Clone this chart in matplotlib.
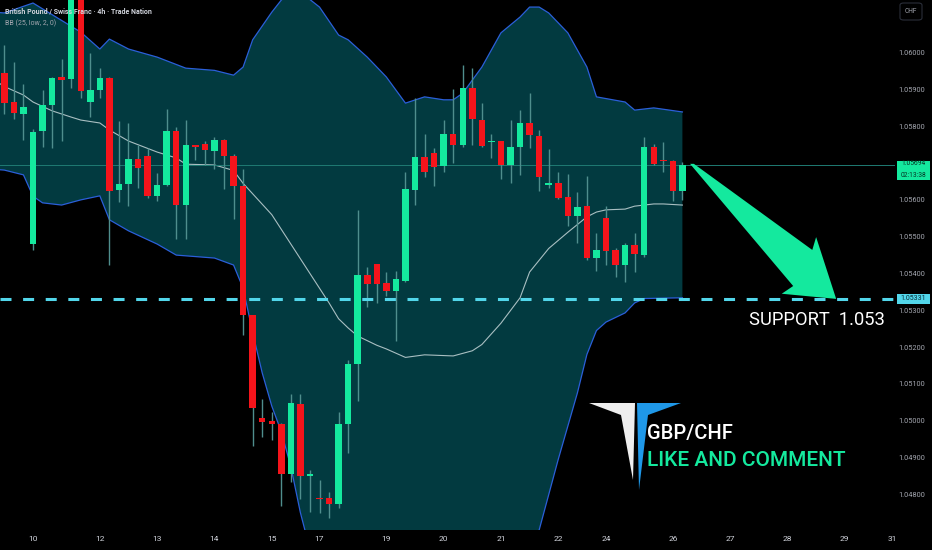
import matplotlib
matplotlib.use("Agg")
import matplotlib.pyplot as plt
from matplotlib import transforms
from matplotlib.patches import Polygon, Rectangle, FancyBboxPatch

W, H = 932, 550

# ---- 4h candles (index 0 = Fri 8th, 3rd-last bar of the day) ----------------
OPEN = [1.05944, 1.05866, 1.05834, 1.05481, 1.05786, 1.05857, 1.05933, 1.05928,
        1.06160, 1.05866, 1.05898, 1.05930, 1.05626, 1.05644, 1.05710, 1.05719,
        1.05610, 1.05641, 1.05787, 1.05586, 1.05750, 1.05752, 1.05734, 1.05764,
        1.05720, 1.05638, 1.05286, 1.05006, 1.05000, 1.04992, 1.04854, 1.05046,
        1.04850, 1.04791, 1.04791, 1.04775, 1.04990, 1.05153, 1.05397, 1.05427,
        1.05374, 1.05352, 1.05380, 1.05628, 1.05717, 1.05727, 1.05691, 1.05780,
        1.05750, 1.05904, 1.05818, 1.05757, 1.05761, 1.05696, 1.05745, 1.05809,
        1.05773, 1.05640, 1.05645, 1.05608, 1.05555, 1.05583, 1.05441, 1.05552,
        1.05463, 1.05424, 1.05477, 1.05449, 1.05743, 1.05707, 1.05705, 1.05623]
HIGH = [1.06021, 1.05975, 1.05914, 1.05792, 1.05898, 1.05933, 1.05984, 1.06190,
        1.06190, 1.05998, 1.05958, 1.05933, 1.05814, 1.05809, 1.05750, 1.05741,
        1.05672, 1.05848, 1.05797, 1.05816, 1.05750, 1.05759, 1.05771, 1.05766,
        1.05724, 1.05685, 1.05286, 1.05058, 1.05025, 1.04994, 1.05072, 1.05072,
        1.04866, 1.04838, 1.04807, 1.05025, 1.05165, 1.05572, 1.05418, 1.05427,
        1.05404, 1.05408, 1.05675, 1.05876, 1.05778, 1.05741, 1.05816, 1.05900,
        1.05967, 1.05958, 1.05862, 1.05780, 1.05761, 1.05817, 1.05845, 1.05890,
        1.05789, 1.05739, 1.05675, 1.05670, 1.05621, 1.05664, 1.05511, 1.05583,
        1.05469, 1.05483, 1.05509, 1.05771, 1.05752, 1.05758, 1.05708, 1.05703]
LOW = [1.05834, 1.05820, 1.05764, 1.05465, 1.05745, 1.05741, 1.05759, 1.05904,
       1.05876, 1.05825, 1.05876, 1.05423, 1.05593, 1.05584, 1.05633, 1.05605,
       1.05596, 1.05638, 1.05493, 1.05493, 1.05708, 1.05696, 1.05685, 1.05630,
       1.05549, 1.05234, 1.04931, 1.04957, 1.04947, 1.04768, 1.04833, 1.04788,
       1.04753, 1.04749, 1.04735, 1.04763, 1.04913, 1.05053, 1.05310, 1.05320,
       1.05338, 1.05217, 1.05376, 1.05586, 1.05661, 1.05638, 1.05675, 1.05699,
       1.05745, 1.05750, 1.05745, 1.05714, 1.05656, 1.05645, 1.05668, 1.05741,
       1.05624, 1.05633, 1.05602, 1.05530, 1.05483, 1.05437, 1.05406, 1.05423,
       1.05390, 1.05378, 1.05404, 1.05446, 1.05696, 1.05675, 1.05596, 1.05600]
CLOSE = [1.05864, 1.05836, 1.05853, 1.05785, 1.05858, 1.05932, 1.05926, 1.06160,
         1.05895, 1.05898, 1.05930, 1.05623, 1.05644, 1.05711, 1.05686, 1.05610,
         1.05641, 1.05787, 1.05586, 1.05750, 1.05745, 1.05736, 1.05764, 1.05720,
         1.05638, 1.05286, 1.05034, 1.04997, 1.04992, 1.04854, 1.05048, 1.04850,
         1.04854, 1.04788, 1.04775, 1.04990, 1.05153, 1.05397, 1.05371, 1.05371,
         1.05352, 1.05385, 1.05630, 1.05717, 1.05677, 1.05689, 1.05780, 1.05750,
         1.05904, 1.05820, 1.05747, 1.05759, 1.05696, 1.05744, 1.05808, 1.05775,
         1.05661, 1.05645, 1.05605, 1.05555, 1.05582, 1.05443, 1.05464, 1.05462,
         1.05424, 1.05477, 1.05452, 1.05743, 1.05698, 1.05705, 1.05623, 1.05694]

# ---- Bollinger bands (25, low, 2) -------------------------------------------
UP_X = [-1, 0, 3, 8, 10, 11, 13, 16, 19, 22, 24, 25, 26, 28, 29, 30, 31, 33, 35,
        36, 38, 40, 42, 44, 46, 47, 48, 50, 52, 54, 55, 56, 57, 59, 61, 62, 65,
        66, 68, 71]
UP = [1.06110, 1.06108, 1.06135, 1.06056, 1.06010, 1.06037, 1.06010, 1.05988,
      1.05958, 1.05952, 1.05939, 1.05961, 1.06035, 1.06110, 1.06143, 1.06165,
      1.06165, 1.06124, 1.06048, 1.06035, 1.05988, 1.05934, 1.05863, 1.05880,
      1.05872, 1.05872, 1.05890, 1.05961, 1.06054, 1.06097, 1.06124, 1.06124,
      1.06108, 1.06054, 1.05961, 1.05880, 1.05866, 1.05844, 1.05850, 1.05839]
LO_X = [-1, 0, 2, 3, 4, 6, 8, 10, 11, 13, 16, 18, 22, 24, 25, 26, 27, 28, 29, 30,
        31, 32, 34, 38, 44, 50, 54, 56, 58, 60, 61, 62, 63, 65, 66, 67, 71]
LO = [1.05683, 1.05681, 1.05668, 1.05610, 1.05592, 1.05586, 1.05600, 1.05611,
      1.05546, 1.05516, 1.05480, 1.05450, 1.05442, 1.05423, 1.05360, 1.05240,
      1.05130, 1.05040, 1.04970, 1.04875, 1.04750, 1.04650, 1.04580, 1.04550,
      1.04560, 1.04590, 1.04640, 1.04703, 1.04895, 1.05075, 1.05180, 1.05245,
      1.05268, 1.05293, 1.05320, 1.05332, 1.05334]
MID_X = [-1, 0, 2, 3, 5, 7, 8, 10, 11, 13, 16, 18, 19, 22, 24, 25, 28, 31, 34, 35,
         36, 37, 39, 40, 42, 44, 47, 49, 50, 52, 54, 55, 57, 59, 61, 62, 63, 65,
         66, 68, 69, 71]
MID = [1.05925, 1.05908, 1.05885, 1.05866, 1.05842, 1.05825, 1.05817, 1.05809,
       1.05790, 1.05760, 1.05730, 1.05714, 1.05697, 1.05695, 1.05680, 1.05645,
       1.05560, 1.05440, 1.05320, 1.05277, 1.05252, 1.05230, 1.05205, 1.05195,
       1.05172, 1.05179, 1.05176, 1.05190, 1.05207, 1.05265, 1.05334, 1.05404,
       1.05468, 1.05512, 1.05554, 1.05567, 1.05573, 1.05575, 1.05583, 1.05589,
       1.05589, 1.05586]

# ---- axis labels / levels ---------------------------------------------------
DATE_IDX = [3, 10, 16, 22, 28, 33, 40, 46, 52, 58, 63, 70, 76, 82, 88, 93]
DATE_LABELS = ["10", "12", "13", "14", "15", "17", "19", "20", "21", "22", "24",
               "26", "27", "28", "29", "31"]
# 1.05700 sits under the last-price tag, so it is not labelled
PRICE_TICKS = [1.048, 1.049, 1.050, 1.051, 1.052, 1.053, 1.054, 1.055, 1.056,
               1.058, 1.059, 1.060]
LAST_PRICE = 1.05694
SUPPORT = 1.05331
ARROW_X = [71.8, 72.2, 84.6, 85.0, 87.1, 81.4, 82.6]
ARROW_Y = [1.05698, 1.05698, 1.05464, 1.05499, 1.05331, 1.05345, 1.05366]

BG = "#000000"
UPC = "#14e99e"
DNC = "#f5141b"
WICK = "#4f8e8d"
FILL = "#023a40"
BAND = "#2b5fd9"
BASIS = "#a9bfc2"
CYAN = "#52d6ea"
TXT = "#d1d4dc"
TXT2 = "#a3a6af"
FONT = ["Roboto", "DejaVu Sans"]


def fx(x):
    return x / W


def fy(y):
    return 1 - y / H


fig = plt.figure(figsize=(W / 100, H / 100), dpi=100, facecolor=BG)
ax = fig.add_axes([0, 20 / H, 895 / W, 530 / H])
ax.set_facecolor(BG)
ax.set_xlim(-0.455, 93.26)
ax.set_ylim(1.047030, 1.061432)
for s in ax.spines.values():
    s.set_visible(False)

# bands
ax.fill(UP_X + LO_X[::-1], UP + LO[::-1], color=FILL, lw=0, zorder=1)
ax.plot(UP_X, UP, color=BAND, lw=0.9, zorder=2)
ax.plot(LO_X, LO, color=BAND, lw=0.9, zorder=2)
ax.plot(MID_X, MID, color=BASIS, lw=0.8, zorder=2)

# levels
ax.axhline(LAST_PRICE, color="#1f7b73", lw=0.7, zorder=2)
ax.plot([-0.455, 93.26], [SUPPORT, SUPPORT], color=CYAN, lw=2.2,
        ls=(0, (3.6, 3.8)), zorder=5)

# candles
for i in range(len(OPEN)):
    o, h, l, c = OPEN[i], HIGH[i], LOW[i], CLOSE[i]
    col = UPC if c >= o else DNC
    ax.vlines(i, l, h, color=WICK, lw=1.0, zorder=3)
    lo_b, hi_b = min(o, c), max(o, c)
    ax.bar(i, max(hi_b - lo_b, 0.00003), 0.68, bottom=lo_b, color=col, lw=0,
           zorder=4)

# arrow
ax.add_patch(Polygon(list(zip(ARROW_X, ARROW_Y)), closed=True, color=UPC,
                     lw=0, zorder=6, clip_on=False))

# ticks
ax.set_xticks(DATE_IDX)
ax.set_xticklabels(DATE_LABELS, family=FONT, fontsize=6, color=TXT)
ax.tick_params(axis="x", length=0, pad=4)
ax.yaxis.tick_right()
ax.set_yticks(PRICE_TICKS)
ax.set_yticklabels([f"{p:.5f}" for p in PRICE_TICKS], family=FONT,
                   fontsize=5.3, color=TXT2)
ax.tick_params(axis="y", length=0, pad=2.5)

# right-hand price tags
bt = transforms.blended_transform_factory(fig.transFigure, ax.transData)
ax.add_patch(Rectangle((fx(897), 1.05654), fx(33), 0.00053, transform=bt,
                       color=UPC, lw=0, clip_on=False, zorder=7))
ax.text(fx(913.5), 1.05699, f"{LAST_PRICE:.5f}", transform=bt, ha="center",
        va="center", fontsize=4.8, family=FONT, color="#053323", zorder=8)
ax.text(fx(913.5), 1.05667, "02:13:38", transform=bt, ha="center", va="center",
        fontsize=4.8, family=FONT, color="#053323", zorder=8)
ax.add_patch(Rectangle((fx(897), SUPPORT - 0.000136), fx(33), 0.000272,
                       transform=bt, color=CYAN, lw=0, clip_on=False, zorder=7))
ax.text(fx(913.5), SUPPORT, f"{SUPPORT:.5f}", transform=bt, ha="center",
        va="center", fontsize=5.0, family=FONT, color="#062a33", zorder=8)

# currency box
fig.patches.append(FancyBboxPatch((fx(900), fy(20)), fx(22), 17 / H,
                                  boxstyle="round,pad=0,rounding_size=0.004",
                                  transform=fig.transFigure, fc=BG,
                                  ec="#2a2e39", lw=0.8))
fig.text(fx(911), fy(11.5), "CHF", ha="center", va="center", fontsize=4.8,
         family=FONT, color=TXT2)

# header
fig.text(fx(5), fy(11.5), "British Pound / Swiss Franc · 4h · Trade Nation",
         ha="left", va="center", fontsize=5.0, weight="bold", family=FONT,
         color=TXT)
fig.text(fx(5), fy(23), "BB (25, low, 2, 0)", ha="left", va="center",
         fontsize=5.0, family=FONT, color=TXT2)

# annotation text
fig.text(fx(749), fy(325), "SUPPORT  1.053", ha="left", va="baseline",
         fontsize=13.2, family=FONT, color="white")

# logo
white = [(589, 403), (635, 403), (633, 480), (621, 415)]
blue = [(637, 403), (681, 403), (648, 415), (639, 490)]
fig.patches.append(Polygon([(fx(a), fy(b)) for a, b in white], closed=True,
                           transform=fig.transFigure, fc="#eeeeee", lw=0))
fig.patches.append(Polygon([(fx(a), fy(b)) for a, b in blue], closed=True,
                           transform=fig.transFigure, fc="#1f98e8", lw=0))
fig.text(fx(647), fy(439), "GBP/CHF", ha="left", va="baseline", fontsize=14.5,
         weight="medium", family=FONT, color="white")
fig.text(fx(647), fy(466), "LIKE AND COMMENT", ha="left", va="baseline",
         fontsize=15, weight="medium", family=FONT, color=UPC)

fig.savefig("out.png", dpi=100, facecolor=BG)
